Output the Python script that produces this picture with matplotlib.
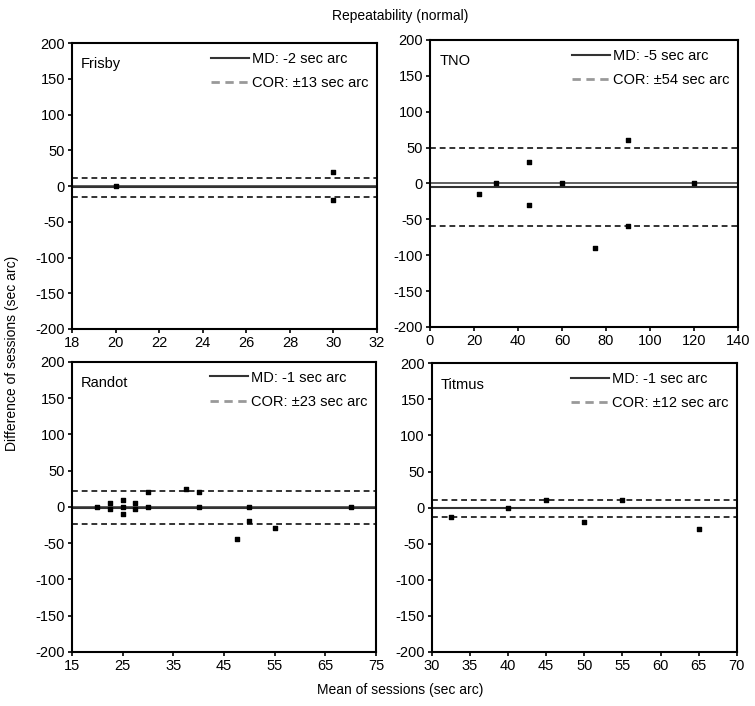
import numpy as np
import matplotlib
matplotlib.use("Agg")
import matplotlib.pyplot as plt

plt.rcParams['font.family'] = ['Liberation Sans', 'DejaVu Sans']
plt.rcParams['axes.unicode_minus'] = False

# Panel names and agreement stats (sec arc)
tests = ["Frisby", "TNO", "Randot", "Titmus"]
md = [-2, -5, -1, -1]
cor = [13, 54, 23, 12]

# Mean / difference of sessions for each test
frisby_x = [20, 30, 30]
frisby_y = [0, 20, -20]

tno_x = [22.5, 30, 45, 45, 60, 75, 90, 90, 120]
tno_y = [-15, 0, 30, -30, 0, -90, 60, -60, 0]

randot_x = [20, 22.5, 22.5, 25, 25, 25, 27.5, 27.5, 30, 30, 37.5, 40, 40, 47.5, 50, 50, 55, 70]
randot_y = [0, 5, -3, 10, 0, -10, 5, -3, 20, 0, 25, 20, 0, -44, 0, -19, -29, 0]

titmus_x = [32.5, 40, 45, 50, 55, 65]
titmus_y = [-13, 0, 10, -20, 10, -29]

xs = [frisby_x, tno_x, randot_x, titmus_x]
ys = [frisby_y, tno_y, randot_y, titmus_y]

xlims = [(18, 32), (0, 140), (15, 75), (30, 70)]
xticks = [np.arange(18, 33, 2), np.arange(0, 141, 20), np.arange(15, 76, 10), np.arange(30, 71, 5)]

# axes boxes in figure fractions
boxes = [[0.0954, 0.534, 0.404, 0.405],
         [0.5695, 0.537, 0.408, 0.4065],
         [0.0954, 0.0765, 0.4026, 0.411],
         [0.572, 0.0765, 0.404, 0.409]]

fig = plt.figure(figsize=(7.55, 7.06), dpi=100)

for i in range(4):
    ax = fig.add_axes(boxes[i])
    ax.axhline(0, color='#444444', lw=1.2, zorder=1)
    ax.axhline(md[i], color='#333333', lw=1.5, zorder=1, label="MD: {} sec arc".format(md[i]))
    ax.axhline(md[i] + cor[i], color='#333333', lw=1.4, ls=(0, (3, 2)), zorder=1)
    ax.axhline(md[i] - cor[i], color='#333333', lw=1.4, ls=(0, (3, 2)), zorder=1)
    ax.plot([], [], color='#999999', lw=2, ls=(0, (3, 2)), label="COR: \u00b1{} sec arc".format(cor[i]))
    ax.scatter(xs[i], ys[i], marker='s', s=9, color='black', zorder=3)

    ax.set_xlim(*xlims[i])
    ax.set_xticks(xticks[i])
    ax.set_ylim(-200, 200)
    ax.set_yticks(np.arange(-200, 201, 50))
    ax.tick_params(direction='out', length=3, width=1.2, labelsize=10.5, pad=2)
    for s in ax.spines.values():
        s.set_linewidth(1.5)
    ax.text(0.03, 0.95, tests[i], transform=ax.transAxes, fontsize=10.5, va='top', ha='left')
    ax.legend(loc='upper right', frameon=False, fontsize=10.5, handlelength=2.6,
              handletextpad=0.2, borderaxespad=0.2, labelspacing=0.7)

fig.text(0.53, 0.978, "Repeatability (normal)", ha='center', va='center', fontsize=10)
fig.text(0.53, 0.022, "Mean of sessions (sec arc)", ha='center', va='center', fontsize=10)
fig.text(0.016, 0.5, "Difference of sessions (sec arc)", ha='center', va='center',
         rotation=90, fontsize=10)

fig.savefig("out.png", dpi=100)
